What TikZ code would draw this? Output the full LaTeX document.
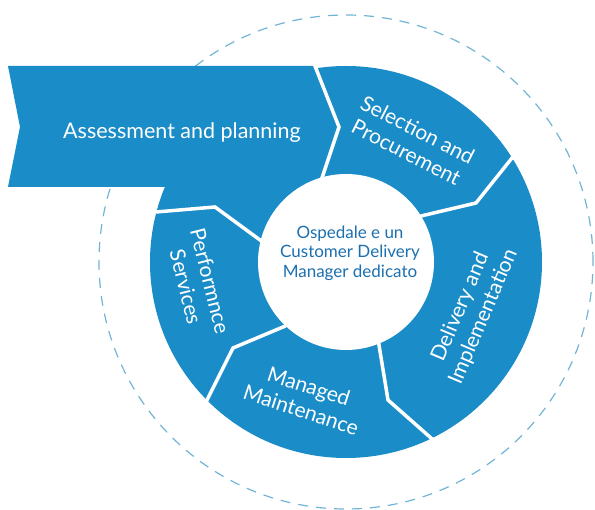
\documentclass[tikz,border=0pt]{standalone}
\usepackage{fontspec}
\setmainfont{Lato}
\usepackage{tikz}

\definecolor{ringblue}{HTML}{1A8CC8}
\definecolor{hubtext}{HTML}{1C70B0}
\definecolor{dashblue}{HTML}{72B4D4}

\begin{document}
\begin{tikzpicture}[x=1pt,y=1pt,
  seg/.style={text=white,align=center,font=\fontsize{21}{25}\selectfont},
  hub/.style={text=hubtext,align=center,font=\fontsize{17}{19.5}\selectfont},
  sep/.style={white,line width=3.5pt,line join=miter,shorten <=-3pt,shorten >=-3pt}]
  \useasboundingbox (-346,-248) rectangle (249,262);

  % outer dashed ring, then the blue wheel with its banner
  \draw[dashblue,line width=1.2pt,dash pattern=on 10pt off 8pt] (0,0) circle (247);
  \fill[ringblue] (0,0) circle (196);
  \fill[ringblue] (-338,196) -- (-31,196) -- (-31,75) -- (-338,75) -- (-326,135) -- cycle;
  \fill[white] (0,0) circle (88);

  % chevron cuts between the phases (outer, kink, inner)
  \coordinate (o1) at (-31,196);   \coordinate (k1) at (-7,135);    \coordinate (i1) at (-24,84);
  \coordinate (o2) at (166,104);   \coordinate (k2) at (130,59);    \coordinate (i2) at (75,46);
  \coordinate (o3) at (85,-176);   \coordinate (k3) at (42,-138);   \coordinate (i3) at (33,-83);
  \coordinate (o4) at (-139,-138); \coordinate (k4) at (-113,-86);  \coordinate (i4) at (-63,-65);
  \coordinate (o5) at (-190,50);   \coordinate (k5) at (-131,55);   \coordinate (i5) at (-86,22);
  \foreach \n in {1,...,5}
    \draw[sep] (o\n) -- (k\n) -- (i\n);

  \node[seg,font=\fontsize{21.5}{25}\selectfont] (assess) at (-164,129) {Assessment and planning};
  \node[seg,rotate=-27] (select) at (66,121) {Selection and\\Procurement};
  \node[seg,rotate=67] (deliver) at (126,-50) {Delivery and\\Implementation};
  \node[seg,rotate=-18] (maint) at (-41,-136) {Managed\\Maintenance};
  \node[seg,rotate=-76] (perform) at (-148,-22) {Performnce\\Services};
  \node[hub] (cdm) at (4,9) {Ospedale e un\\Customer Delivery\\Manager dedicato};
\end{tikzpicture}
\end{document}
